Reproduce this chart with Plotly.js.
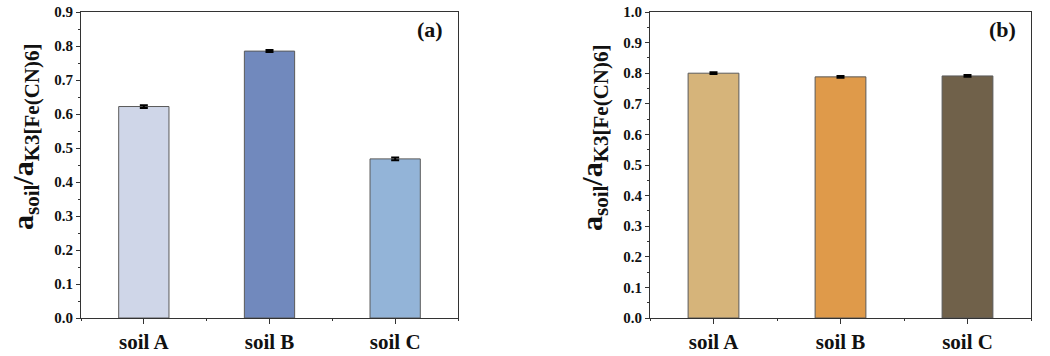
<!DOCTYPE html>
<html>
<head>
<meta charset="utf-8">
<script src="https://cdn.plot.ly/plotly-3.0.1.min.js"></script>
<style>html,body{margin:0;padding:0;background:#fff;}#chart{width:1050px;height:356px;}</style>
</head>
<body>
<div id="chart"></div>
<script>
const categories = ["soil A", "soil B", "soil C"];
const valuesA = [0.622, 0.785, 0.468];
const errorsA = [0.004, 0.003, 0.004];
const valuesB = [0.800, 0.788, 0.791];
const errorsB = [0.003, 0.003, 0.003];
const colorsA = ["#CFD6E8", "#7189BD", "#93B4D8"];
const colorsB = ["#D6B47A", "#DF9A4A", "#70614A"];
const panelLabels = ["(a)", "(b)"];
const yTitle = "a<sub>soil</sub>/a<sub>K3[Fe(CN)6]</sub>";

const idx = categories.map((c, i) => i);
const W = 1050, H = 356;
const fontFam = "'Liberation Serif'";

function bar(vals, errs, cols, xa, ya) {
  return {
    type: "bar", x: idx, y: vals, xaxis: xa, yaxis: ya, width: 0.4,
    marker: {color: cols, line: {color: "#5a5a5a", width: 1}},
    error_y: {type: "data", array: errs, visible: true, color: "#000", thickness: 2, width: 4},
    showlegend: false, hoverinfo: "x+y"
  };
}

function xaxis(domain, anchor) {
  return {
    domain: domain, anchor: anchor, range: [-0.5, 2.5],
    tickmode: "array", tickvals: idx, ticktext: categories,
    ticks: "outside", ticklen: 5, tickwidth: 1, tickcolor: "#333",
    minor: {tickmode: "linear", tick0: 0.5, dtick: 1, ticks: "outside", ticklen: 2, tickcolor: "#333"},
    showline: true, linecolor: "#333", linewidth: 1, mirror: true,
    showgrid: false, zeroline: false, fixedrange: true, automargin: false,
    tickfont: {family: fontFam, size: 21, color: "#111", weight: "bold"}
  };
}
function yaxis(domain, anchor, maxv) {
  return {
    domain: domain, anchor: anchor, range: [0, maxv],
    tickmode: "linear", tick0: 0, dtick: 0.1, tickformat: ".1f",
    ticks: "outside", ticklen: 4, tickwidth: 1, tickcolor: "#333",
    minor: {tickmode: "linear", tick0: 0, dtick: 0.05, ticks: "outside", ticklen: 2, tickcolor: "#333"},
    showline: true, linecolor: "#333", linewidth: 1, mirror: true,
    showgrid: false, zeroline: false, fixedrange: true, automargin: false,
    tickfont: {family: fontFam, size: 15, color: "#111", weight: "bold"}
  };
}

const yDom = [1 - 318 / H, 1 - 12 / H];
const data = [
  bar(valuesA, errorsA, colorsA, "x", "y"),
  bar(valuesB, errorsB, colorsB, "x2", "y2")
];
const titleFont = {family: fontFam, size: 30, color: "#111", weight: "bold"};
const labelFont = {family: fontFam, size: 22, color: "#111", weight: "bold"};
const layout = {
  width: W, height: H,
  margin: {l: 0, r: 0, t: 0, b: 0, pad: 0},
  paper_bgcolor: "#fff", plot_bgcolor: "#fff",
  font: {family: fontFam},
  xaxis: xaxis([81 / W, 458 / W], "y"),
  yaxis: yaxis(yDom, "x", 0.9),
  xaxis2: xaxis([650 / W, 1031 / W], "y2"),
  yaxis2: yaxis(yDom, "x2", 1.0),
  annotations: [
    {text: panelLabels[0], xref: "x domain", yref: "y domain", x: 0.966, y: 0.99, xanchor: "right", yanchor: "top", showarrow: false, font: labelFont},
    {text: panelLabels[1], xref: "x2 domain", yref: "y2 domain", x: 0.966, y: 0.99, xanchor: "right", yanchor: "top", showarrow: false, font: labelFont},
    {text: yTitle, xref: "paper", yref: "paper", x: 25 / W, y: 1 - 137 / H, xanchor: "center", yanchor: "middle", textangle: -90, showarrow: false, font: titleFont},
    {text: yTitle, xref: "paper", yref: "paper", x: 594 / W, y: 1 - 138 / H, xanchor: "center", yanchor: "middle", textangle: -90, showarrow: false, font: titleFont}
  ]
};
Plotly.newPlot("chart", data, layout, {staticPlot: true, displayModeBar: false});
</script>
</body>
</html>
